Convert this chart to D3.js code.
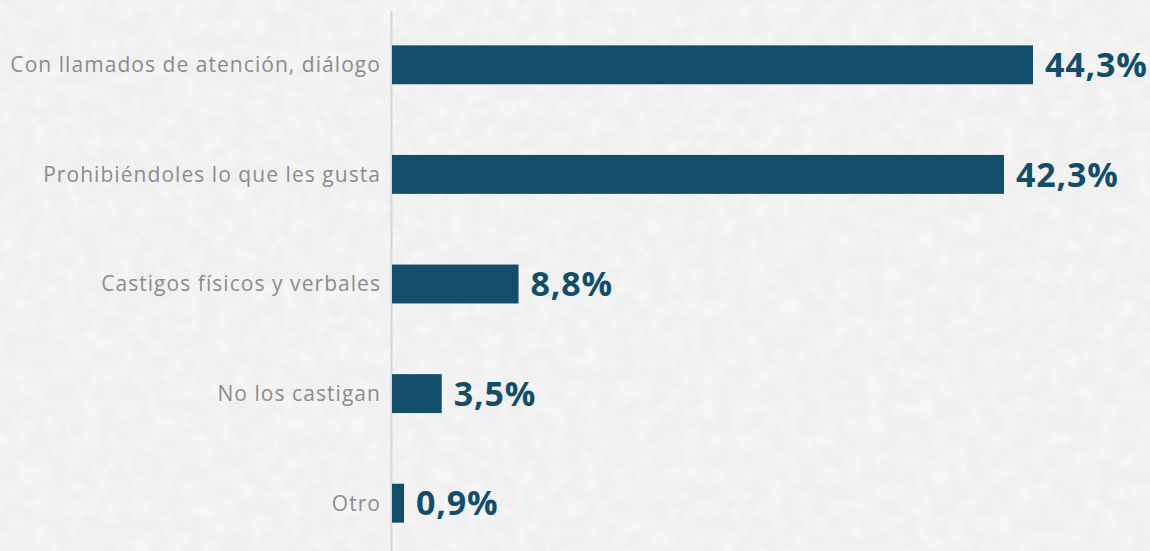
<!DOCTYPE html>
<html>
<head>
<meta charset="utf-8">
<script src="https://cdn.jsdelivr.net/npm/d3@7"></script>
<style>
  html, body { margin: 0; padding: 0; background: #f1f1f1; }
  svg { display: block; }
</style>
</head>
<body>
<svg id="chart" width="1150" height="551"></svg>
<script>
// categories and values (percent)
const categories = [
    "Con llamados de atención, diálogo",
    "Prohibiéndoles lo que les gusta",
    "Castigos físicos y verbales",
    "No los castigan",
    "Otro"
];
const values = [44.3, 42.3, 8.8, 3.5, 0.9];
const valueLabels = ["44,3%", "42,3%", "8,8%", "3,5%", "0,9%"];

const width = 1150, height = 551;
const svg = d3.select("#chart");

// paper-like background
const defs = svg.append("defs");
const filt = defs.append("filter").attr("id", "paper")
    .attr("x", 0).attr("y", 0).attr("width", "100%").attr("height", "100%");
filt.append("feTurbulence")
    .attr("type", "fractalNoise")
    .attr("baseFrequency", 0.06)
    .attr("numOctaves", 4)
    .attr("seed", 7)
    .attr("result", "noise");
filt.append("feColorMatrix")
    .attr("in", "noise")
    .attr("type", "matrix")
    .attr("values", "0 0 0 0 1  0 0 0 0 1  0 0 0 0 1  0 0 0 -1.6 1.0");

svg.append("rect").attr("width", width).attr("height", height).attr("fill", "#f0f0f0");
svg.append("rect").attr("width", width).attr("height", height)
    .attr("filter", "url(#paper)")
    .attr("opacity", 0.6);

const x = d3.scaleLinear().domain([0, 44.3]).range([391, 1033]);
const y = d3.scaleBand()
    .domain(categories)
    .range([10, 558])
    .paddingInner(0.645)
    .paddingOuter(0.3225);

// vertical axis line
svg.append("line")
    .attr("x1", 391.5).attr("x2", 391.5)
    .attr("y1", 11).attr("y2", height)
    .attr("stroke", "#d6d6d6")
    .attr("stroke-width", 2);

const rows = svg.append("g")
    .selectAll("g")
    .data(categories.map((c, i) => ({ c, v: values[i], l: valueLabels[i] })))
    .enter()
    .append("g");

rows.append("rect")
    .attr("x", x(0) + 1)
    .attr("y", d => y(d.c))
    .attr("width", d => x(d.v) - x(0) - 1)
    .attr("height", y.bandwidth())
    .attr("fill", "#124e6a");

rows.append("text")
    .attr("x", 381)
    .attr("y", d => y(d.c) + y.bandwidth() / 2)
    .attr("dy", "0.35em")
    .attr("text-anchor", "end")
    .attr("font-family", "'Open Sans', sans-serif")
    .attr("font-size", 21)
    .attr("letter-spacing", 1.05)
    .attr("fill", "#8c8c8c")
    .text(d => d.c);

rows.append("text")
    .attr("x", d => x(d.v) + 12)
    .attr("y", d => y(d.c) + y.bandwidth() / 2)
    .attr("dy", "0.36em")
    .attr("font-family", "'Open Sans', sans-serif")
    .attr("font-weight", "bold")
    .attr("font-size", 34)
    .attr("letter-spacing", 0.8)
    .attr("fill", "#124e6a")
    .text(d => d.l);
</script>
</body>
</html>
